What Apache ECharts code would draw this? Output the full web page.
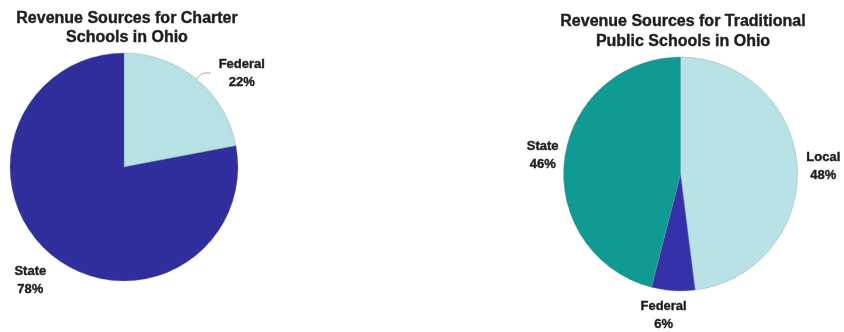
<!DOCTYPE html>
<html>
<head>
<meta charset="utf-8">
<script src="https://cdn.jsdelivr.net/npm/echarts@6/dist/echarts.min.js"></script>
<style>
  html, body { margin: 0; padding: 0; background: #ffffff; }
  #chart { width: 844px; height: 332px; }
</style>
</head>
<body>
<div id="chart"></div>
<script>
// Revenue shares (percent), listed clockwise from 12 o'clock
const charterTitle = 'Revenue Sources for Charter\nSchools in Ohio';
const charterNames = ['Federal', 'State'];
const charterValues = [22, 78];

const publicTitle = 'Revenue Sources for Traditional\nPublic Schools in Ohio';
const publicNames = ['Local', 'Federal', 'State'];
const publicValues = [48, 6, 46];

// Slice colours
const charterColors = ['#b6e2e6', '#302e9c'];
const publicColors = ['#b8e2e5', '#3531a8', '#0f9a94'];

// Label placement per slice: leader segment lengths, gap to text, text block width
const charterLabelLayout = [
  { len: 8, len2: 9, gap: 5, width: 52, line: true },
  { len: 33, len2: 0, gap: -16, width: 32, line: false }
];
const publicLabelLayout = [
  { len: 1, len2: 0, gap: 7, width: 36, line: false },
  { len: 25, len2: 0, gap: -18, width: 52, line: false },
  { len: 34, len2: 0, gap: -30, width: 36, line: false }
];

const TEXT = '#1e1e1e';
const FONT = 'Liberation Sans, Arial, Helvetica, sans-serif';

function buildData(names, values, colors, layout) {
  return names.map(function (name, i) {
    const L = layout[i];
    return {
      name: name,
      value: values[i],
      itemStyle: { color: colors[i] },
      label: {
        distanceToLabelLine: L.gap,
        rich: {
          t: {
            width: L.width,
            align: 'center',
            fontFamily: FONT,
            fontSize: 13,
            fontWeight: 'bold',
            color: TEXT,
            textBorderColor: TEXT,
            textBorderWidth: 0.4,
            lineHeight: 18
          }
        }
      },
      labelLine: {
        show: L.line,
        length: L.len,
        length2: L.len2,
        smooth: 0.3,
        lineStyle: { color: '#a0a0a0', width: 1 }
      }
    };
  });
}

function pieSeries(center, radius, data) {
  return {
    type: 'pie',
    center: center,
    radius: radius,
    startAngle: 90,
    clockwise: true,
    avoidLabelOverlap: false,
    silent: true,
    animation: false,
    itemStyle: { borderColor: 'rgba(120,140,150,0.55)', borderWidth: 0.6 },
    label: {
      show: true,
      position: 'outside',
      alignTo: 'none',
      formatter: function (p) { return '{t|' + p.name + '}\n{t|' + p.value + '%}'; }
    },
    data: data
  };
}

const titleText = {
  fontFamily: FONT,
  fontSize: 16,
  fontWeight: 'bold',
  color: TEXT,
  textBorderColor: TEXT,
  textBorderWidth: 0.4,
  lineHeight: 19
};

const chart = echarts.init(document.getElementById('chart'), null, { renderer: 'canvas' });

chart.setOption({
  backgroundColor: '#ffffff',
  title: [
    { text: charterTitle, left: 122, top: 4, textAlign: 'center', textStyle: titleText },
    { text: publicTitle, left: 678, top: 7, textAlign: 'center', textStyle: Object.assign({}, titleText, { lineHeight: 20 }) }
  ],
  series: [
    pieSeries([124, 167], 114, buildData(charterNames, charterValues, charterColors, charterLabelLayout)),
    pieSeries([680.5, 174], 117, buildData(publicNames, publicValues, publicColors, publicLabelLayout))
  ]
});
</script>
</body>
</html>
